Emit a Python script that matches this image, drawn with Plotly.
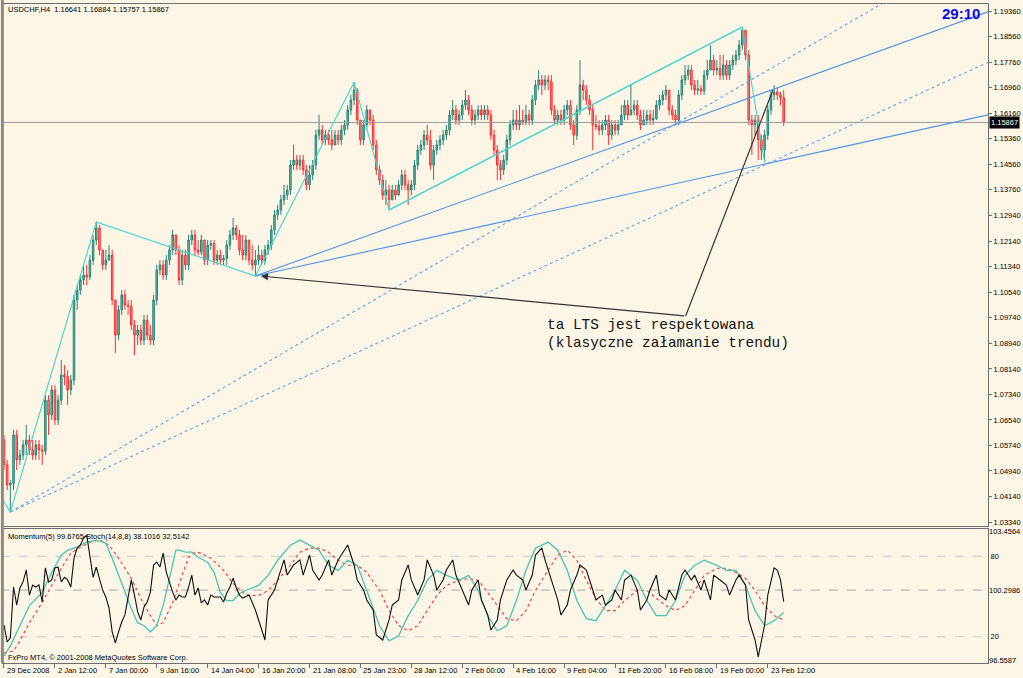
import plotly.graph_objects as go

# ---------------- data ----------------
opens = [
1.0591, 1.0513, 1.0450, 1.0455, 1.0607, 1.0529, 1.0544, 1.0576, 1.0591, 1.0560,
1.0544, 1.0576, 1.0560, 1.0556, 1.0716, 1.0670, 1.0748, 1.0654, 1.0716, 1.0795,
1.0790, 1.0748, 1.0779, 1.1030, 1.1061, 1.1093, 1.1108, 1.1102, 1.1155, 1.1218,
1.1256, 1.1187, 1.1140, 1.1155, 1.1171, 1.1030, 1.0920, 1.0999, 1.1046, 1.1014,
1.1010, 1.0952, 1.0920, 1.0936, 1.0904, 1.0967, 1.0920, 1.0904, 1.1030, 1.1124,
1.1140, 1.1108, 1.1155, 1.1187, 1.1234, 1.1187, 1.1093, 1.1171, 1.1140, 1.1218,
1.1234, 1.1187, 1.1180, 1.1218, 1.1155, 1.1202, 1.1207, 1.1155, 1.1171, 1.1155,
1.1160, 1.1202, 1.1234, 1.1256, 1.1234, 1.1187, 1.1171, 1.1218, 1.1155, 1.1140,
1.1155, 1.1171, 1.1155, 1.1187, 1.1202, 1.1250, 1.1297, 1.1312, 1.1344, 1.1359,
1.1375, 1.1453, 1.1469, 1.1453, 1.1469, 1.1438, 1.1391, 1.1422, 1.1453, 1.1547,
1.1563, 1.1532, 1.1547, 1.1532, 1.1516, 1.1547, 1.1532, 1.1563, 1.1579, 1.1626,
1.1657, 1.1688, 1.1594, 1.1532, 1.1579, 1.1626, 1.1594, 1.1516, 1.1438, 1.1406,
1.1359, 1.1375, 1.1344, 1.1375, 1.1359, 1.1391, 1.1422, 1.1391, 1.1375, 1.1391,
1.1453, 1.1500, 1.1516, 1.1547, 1.1532, 1.1453, 1.1500, 1.1516, 1.1532, 1.1547,
1.1563, 1.1610, 1.1626, 1.1594, 1.1610, 1.1641, 1.1657, 1.1626, 1.1594, 1.1610,
1.1626, 1.1610, 1.1626, 1.1610, 1.1547, 1.1500, 1.1453, 1.1438, 1.1469, 1.1532,
1.1579, 1.1594, 1.1579, 1.1594, 1.1590, 1.1610, 1.1594, 1.1657, 1.1704, 1.1720,
1.1704, 1.1720, 1.1714, 1.1626, 1.1594, 1.1610, 1.1594, 1.1626, 1.1641, 1.1579,
1.1547, 1.1626, 1.1704, 1.1688, 1.1657, 1.1626, 1.1579, 1.1574, 1.1563, 1.1579,
1.1594, 1.1547, 1.1579, 1.1563, 1.1579, 1.1610, 1.1641, 1.1610, 1.1626, 1.1641,
1.1610, 1.1579, 1.1594, 1.1610, 1.1594, 1.1599, 1.1641, 1.1657, 1.1673, 1.1688,
1.1626, 1.1610, 1.1594, 1.1673, 1.1720, 1.1735, 1.1751, 1.1704, 1.1688, 1.1692,
1.1685, 1.1735, 1.1751, 1.1782, 1.1751, 1.1756, 1.1735, 1.1767, 1.1735, 1.1767,
1.1782, 1.1798, 1.1829, 1.1876, 1.1798, 1.1594, 1.1579, 1.1594, 1.1532, 1.1500,
1.1547, 1.1626, 1.1673, 1.1682, 1.1673, 1.16641]

highs = [
1.0607, 1.0529, 1.0466, 1.0623, 1.0623, 1.0560, 1.0591, 1.0638, 1.0607, 1.0591,
1.0591, 1.0591, 1.0576, 1.0732, 1.0732, 1.0763, 1.0763, 1.0732, 1.0842, 1.0826,
1.0810, 1.0795, 1.1046, 1.1077, 1.1108, 1.1140, 1.1140, 1.1171, 1.1234, 1.1275,
1.1265, 1.1187, 1.1187, 1.1202, 1.1187, 1.1030, 1.1014, 1.1061, 1.1061, 1.1030,
1.1030, 1.0967, 1.0952, 1.0952, 1.0983, 1.0983, 1.0952, 1.1046, 1.1140, 1.1155,
1.1155, 1.1171, 1.1202, 1.1250, 1.1234, 1.1202, 1.1187, 1.1187, 1.1234, 1.1250,
1.1250, 1.1218, 1.1234, 1.1218, 1.1218, 1.1218, 1.1218, 1.1187, 1.1187, 1.1171,
1.1218, 1.1250, 1.1287, 1.1265, 1.1250, 1.1234, 1.1234, 1.1218, 1.1202, 1.1187,
1.1202, 1.1187, 1.1202, 1.1218, 1.1265, 1.1312, 1.1328, 1.1359, 1.1391, 1.1391,
1.1469, 1.1516, 1.1485, 1.1485, 1.1485, 1.1453, 1.1453, 1.1469, 1.1563, 1.1610,
1.1579, 1.1563, 1.1563, 1.1563, 1.1563, 1.1563, 1.1579, 1.1594, 1.1641, 1.1673,
1.1713, 1.1695, 1.1594, 1.1594, 1.1641, 1.1626, 1.1610, 1.1532, 1.1453, 1.1422,
1.1406, 1.1391, 1.1391, 1.1391, 1.1406, 1.1438, 1.1438, 1.1406, 1.1406, 1.1469,
1.1516, 1.1532, 1.1563, 1.1579, 1.1563, 1.1516, 1.1532, 1.1547, 1.1563, 1.1579,
1.1626, 1.1657, 1.1641, 1.1626, 1.1657, 1.1688, 1.1673, 1.1641, 1.1626, 1.1641,
1.1641, 1.1641, 1.1641, 1.1626, 1.1563, 1.1516, 1.1469, 1.1485, 1.1547, 1.1594,
1.1626, 1.1626, 1.1641, 1.1626, 1.1641, 1.1626, 1.1673, 1.1720, 1.1751, 1.1735,
1.1735, 1.1735, 1.1735, 1.1641, 1.1626, 1.1626, 1.1641, 1.1657, 1.1657, 1.1594,
1.1641, 1.1782, 1.1720, 1.1704, 1.1673, 1.1641, 1.1610, 1.1594, 1.1594, 1.1610,
1.1610, 1.1594, 1.1594, 1.1594, 1.1641, 1.1657, 1.1657, 1.1704, 1.1657, 1.1657,
1.1626, 1.1626, 1.1626, 1.1626, 1.1626, 1.1657, 1.1673, 1.1688, 1.1704, 1.1688,
1.1641, 1.1626, 1.1688, 1.1735, 1.1767, 1.1767, 1.1767, 1.1720, 1.1720, 1.1704,
1.1751, 1.1782, 1.1829, 1.1798, 1.1782, 1.1798, 1.1798, 1.1782, 1.1782, 1.1798,
1.1814, 1.1845, 1.1886, 1.1876, 1.1814, 1.1610, 1.1610, 1.1610, 1.1547, 1.1563,
1.1641, 1.1688, 1.1704, 1.1695, 1.1682, 1.16884]

lows = [
1.0497, 1.0434, 1.0365, 1.0434, 1.0497, 1.0513, 1.0529, 1.0544, 1.0544, 1.0529,
1.0529, 1.0529, 1.0513, 1.0544, 1.0607, 1.0654, 1.0638, 1.0638, 1.0701, 1.0763,
1.0701, 1.0732, 1.0763, 1.0999, 1.1046, 1.1077, 1.1077, 1.1093, 1.1140, 1.1202,
1.1171, 1.1124, 1.1124, 1.1155, 1.1014, 1.0864, 1.0904, 1.0983, 1.0999, 1.0983,
1.0936, 1.0857, 1.0889, 1.0889, 1.0889, 1.0904, 1.0889, 1.0889, 1.1014, 1.1108,
1.1093, 1.1093, 1.1140, 1.1171, 1.1171, 1.1077, 1.1077, 1.1124, 1.1124, 1.1202,
1.1171, 1.1171, 1.1171, 1.1140, 1.1140, 1.1187, 1.1140, 1.1140, 1.1140, 1.1140,
1.1140, 1.1187, 1.1218, 1.1218, 1.1171, 1.1155, 1.1155, 1.1140, 1.1124, 1.1105,
1.1140, 1.1140, 1.1140, 1.1171, 1.1187, 1.1234, 1.1281, 1.1297, 1.1328, 1.1344,
1.1359, 1.1438, 1.1438, 1.1438, 1.1422, 1.1375, 1.1375, 1.1406, 1.1438, 1.1532,
1.1516, 1.1516, 1.1516, 1.1500, 1.1516, 1.1516, 1.1516, 1.1547, 1.1563, 1.1610,
1.1641, 1.1579, 1.1516, 1.1516, 1.1563, 1.1579, 1.1500, 1.1422, 1.1391, 1.1344,
1.1328, 1.1312, 1.1344, 1.1344, 1.1359, 1.1375, 1.1375, 1.1328, 1.1359, 1.1375,
1.1438, 1.1485, 1.1500, 1.1516, 1.1438, 1.1406, 1.1485, 1.1500, 1.1516, 1.1532,
1.1547, 1.1594, 1.1579, 1.1579, 1.1594, 1.1626, 1.1610, 1.1579, 1.1579, 1.1594,
1.1594, 1.1594, 1.1594, 1.1532, 1.1485, 1.1406, 1.1406, 1.1422, 1.1453, 1.1516,
1.1563, 1.1563, 1.1563, 1.1579, 1.1579, 1.1579, 1.1579, 1.1641, 1.1688, 1.1673,
1.1688, 1.1688, 1.1610, 1.1579, 1.1579, 1.1579, 1.1579, 1.1610, 1.1563, 1.1516,
1.1532, 1.1610, 1.1657, 1.1641, 1.1610, 1.1500, 1.1563, 1.1547, 1.1547, 1.1563,
1.1516, 1.1532, 1.1547, 1.1547, 1.1579, 1.1594, 1.1594, 1.1610, 1.1610, 1.1594,
1.1563, 1.1579, 1.1579, 1.1579, 1.1579, 1.1594, 1.1626, 1.1641, 1.1657, 1.1610,
1.1594, 1.1579, 1.1579, 1.1657, 1.1704, 1.1720, 1.1688, 1.1673, 1.1673, 1.1673,
1.1673, 1.1720, 1.1751, 1.1735, 1.1735, 1.1720, 1.1720, 1.1720, 1.1720, 1.1751,
1.1767, 1.1782, 1.1814, 1.1782, 1.1579, 1.1485, 1.1547, 1.1469, 1.1469, 1.1463,
1.1532, 1.1610, 1.1657, 1.1657, 1.1641, 1.15757]

closes = [
1.0513, 1.0450, 1.0455, 1.0607, 1.0529, 1.0544, 1.0576, 1.0591, 1.0560, 1.0544,
1.0576, 1.0560, 1.0556, 1.0716, 1.0670, 1.0748, 1.0654, 1.0716, 1.0795, 1.0790,
1.0748, 1.0779, 1.1030, 1.1061, 1.1093, 1.1108, 1.1102, 1.1155, 1.1218, 1.1256,
1.1187, 1.1140, 1.1155, 1.1171, 1.1030, 1.0920, 1.0999, 1.1046, 1.1014, 1.1010,
1.0952, 1.0920, 1.0936, 1.0904, 1.0967, 1.0920, 1.0904, 1.1030, 1.1124, 1.1140,
1.1108, 1.1155, 1.1187, 1.1234, 1.1187, 1.1093, 1.1171, 1.1140, 1.1218, 1.1234,
1.1187, 1.1180, 1.1218, 1.1155, 1.1202, 1.1207, 1.1155, 1.1171, 1.1155, 1.1160,
1.1202, 1.1234, 1.1256, 1.1234, 1.1187, 1.1171, 1.1218, 1.1155, 1.1140, 1.1155,
1.1171, 1.1155, 1.1187, 1.1202, 1.1250, 1.1297, 1.1312, 1.1344, 1.1359, 1.1375,
1.1453, 1.1469, 1.1453, 1.1469, 1.1438, 1.1391, 1.1422, 1.1453, 1.1547, 1.1563,
1.1532, 1.1547, 1.1532, 1.1516, 1.1547, 1.1532, 1.1563, 1.1579, 1.1626, 1.1657,
1.1688, 1.1594, 1.1532, 1.1579, 1.1626, 1.1594, 1.1516, 1.1438, 1.1406, 1.1359,
1.1375, 1.1344, 1.1375, 1.1359, 1.1391, 1.1422, 1.1391, 1.1375, 1.1391, 1.1453,
1.1500, 1.1516, 1.1547, 1.1532, 1.1453, 1.1500, 1.1516, 1.1532, 1.1547, 1.1563,
1.1610, 1.1626, 1.1594, 1.1610, 1.1641, 1.1657, 1.1626, 1.1594, 1.1610, 1.1626,
1.1610, 1.1626, 1.1610, 1.1547, 1.1500, 1.1453, 1.1438, 1.1469, 1.1532, 1.1579,
1.1594, 1.1579, 1.1594, 1.1590, 1.1610, 1.1594, 1.1657, 1.1704, 1.1720, 1.1704,
1.1720, 1.1714, 1.1626, 1.1594, 1.1610, 1.1594, 1.1626, 1.1641, 1.1579, 1.1547,
1.1626, 1.1704, 1.1688, 1.1657, 1.1626, 1.1579, 1.1574, 1.1563, 1.1579, 1.1594,
1.1547, 1.1579, 1.1563, 1.1579, 1.1610, 1.1641, 1.1610, 1.1626, 1.1641, 1.1610,
1.1579, 1.1594, 1.1610, 1.1594, 1.1599, 1.1641, 1.1657, 1.1673, 1.1688, 1.1626,
1.1610, 1.1594, 1.1673, 1.1720, 1.1735, 1.1751, 1.1704, 1.1688, 1.1692, 1.1685,
1.1735, 1.1751, 1.1782, 1.1751, 1.1756, 1.1735, 1.1767, 1.1735, 1.1767, 1.1782,
1.1798, 1.1829, 1.1876, 1.1798, 1.1594, 1.1579, 1.1594, 1.1532, 1.1500, 1.1547,
1.1626, 1.1673, 1.1682, 1.1673, 1.16641, 1.15867]

bars = list(range(len(closes)))

date_ticks = [0, 16, 32, 48, 64, 80, 96, 112, 128, 144, 160, 176, 192, 208, 224, 240]
date_labels = ["29 Dec 2008", "2 Jan 12:00", "7 Jan 00:00", "9 Jan 16:00", "14 Jan 04:00",
               "16 Jan 20:00", "21 Jan 08:00", "25 Jan 23:00", "28 Jan 12:00", "2 Feb 00:00",
               "4 Feb 16:00", "9 Feb 04:00", "11 Feb 20:00", "16 Feb 08:00", "19 Feb 00:00",
               "23 Feb 12:00"]

price_ticks = [1.1936, 1.1856, 1.1776, 1.1696, 1.1616, 1.1536, 1.1456, 1.1376, 1.1294, 1.1214,
               1.1134, 1.1054, 1.0974, 1.0894, 1.0814, 1.0734, 1.0654, 1.0574, 1.0494, 1.0414, 1.0334]
price_labels = ["%.5f" % v for v in price_ticks]
last_price = 1.15867

# zigzag + trend lines (anchor points: bar index, price)
zigzag_bar = [-0.31, 2, 29, 79, 110, 121, 232, 239]
zigzag_px = [1.0403, 1.0365, 1.1275, 1.1105, 1.1713, 1.1312, 1.1886, 1.1463]
channel_bar = [121, 232]
channel_px = [1.1312, 1.1886]
lineA_bar = [79, 315]
lineA_px = [1.1105, 1.1954]
lineC_bar = [79, 315]
lineC_px = [1.1105, 1.1623]
dot1_bar = [2, 315]
dot1_px = [1.0365, 1.2187]
dot2_bar = [2, 315]
dot2_px = [1.0365, 1.1802]
note_bar = [214.2, 80.7, 241.6]
note_px = [1.0980, 1.1105, 1.1688]

# indicator panel
mom_bar = list(range(0, 76)) + [
    77, 79, 80, 82, 83, 85, 86, 88, 89, 91, 93, 94, 96, 97, 99, 100, 102, 103, 105, 107,
    108, 110, 111, 113, 114, 116, 117, 119, 121, 122, 124, 125, 127, 128, 130, 132, 133, 135, 136, 138,
    139, 141, 142, 144, 146, 147, 149, 150, 152, 153, 155, 156, 158, 160, 161, 163, 164, 166, 167, 169,
    170, 172, 174, 175, 177, 178, 180, 181, 183, 185, 186, 188, 189, 191, 192, 194, 195, 197, 199, 200,
    202, 203, 205, 206, 208, 209, 211, 213, 214, 216, 217, 219, 220, 222, 223, 225, 227, 228, 230, 231,
    233, 234, 236, 237, 238, 239, 240, 241, 242, 243, 244, 245]
mom_val = [
    98.43, 97.52, 97.74, 100.46, 99.50, 100.41, 100.75, 101.37, 100.03, 100.57,
    100.46, 100.57, 99.66, 101.48, 100.73, 100.84, 101.48, 101.53, 100.73, 100.98,
    100.84, 100.46, 102.01, 102.55, 102.71, 103.08, 103.24, 102.01, 100.98, 101.53,
    100.94, 100.30, 99.93, 99.34, 98.06, 97.47, 98.06, 98.59, 98.97, 99.87,
    100.84, 100.03, 99.13, 98.70, 99.39, 99.66, 100.19, 101.64, 101.80, 101.53,
    102.28, 101.26, 100.68, 100.19, 99.77, 100.03, 99.93, 99.93, 100.46, 101.10,
    100.03, 100.41, 99.61, 99.77, 99.50, 100.03, 99.93, 99.93, 99.93, 99.66,
    100.14, 100.46, 100.94, 100.41, 100.03, 99.87,
    100.03, 99.23, 98.70, 97.63, 99.77, 100.30, 100.84, 101.91, 101.10, 101.64,
    101.91, 101.10, 102.17, 101.37, 100.84, 101.10, 101.91, 101.10, 101.91, 102.44,
    102.71, 101.64, 100.84, 100.30, 99.77, 99.23, 97.90, 97.63, 98.70, 99.50,
    99.77, 100.84, 101.64, 100.84, 100.03, 100.84, 101.91, 101.10, 100.30, 100.84,
    101.37, 101.91, 101.10, 100.30, 99.50, 100.30, 100.84, 99.77, 98.97, 98.16,
    98.70, 99.77, 100.84, 101.37, 101.10, 100.84, 100.30, 101.10, 102.17, 102.55,
    101.91, 100.84, 99.77, 98.97, 99.50, 100.30, 101.10, 101.64, 101.37, 100.30,
    99.77, 100.03, 99.50, 99.77, 100.30, 99.77, 100.84, 101.10, 100.30, 99.23,
    99.77, 100.30, 101.10, 100.03, 99.77, 100.30, 99.77, 101.10, 101.37, 100.84,
    101.10, 100.30, 100.84, 99.77, 101.10, 100.84, 100.57, 100.03, 100.84, 101.10,
    100.57, 98.70, 97.63, 96.72, 97.63, 98.43, 100.03, 100.84, 101.48, 101.37,
    100.84, 99.6765]

stoch_bar = [0, 2, 5, 8, 12, 15, 18, 20, 23, 26, 29, 32, 34, 36, 38, 40, 42, 44, 45, 46,
             48, 50, 52, 54, 55, 57, 59, 61, 64, 66, 68, 70, 72, 74, 76, 80, 83, 86, 90, 93,
             96, 99, 102, 105, 108, 111, 114, 118, 121, 124, 127, 130, 133, 136, 139, 143, 146, 149, 152, 155,
             158, 161, 164, 167, 171, 174, 177, 180, 183, 186, 189, 192, 195, 199, 202, 205, 208, 211, 214, 217,
             220, 224, 227, 230, 233, 236, 239, 242, 245]
stoch_val = [5.75, 13.25, 28.25, 43.25, 53.0, 68.0, 80.75, 84.5, 86.75, 90.5,
             92.0, 89.75, 78.5, 65.75, 53.0, 41.0, 30.5, 28.25, 26.0, 23.75,
             28.25, 43.25, 63.5, 84.5, 84.5, 83.0, 83.0, 79.25, 75.5, 68.0,
             53.0, 47.0, 47.0, 52.25, 54.5, 58.25, 65.75, 77.0, 88.25, 92.0,
             88.25, 84.5, 73.25, 69.5, 77.0, 73.25, 54.5, 28.25, 17.0, 20.75,
             35.75, 47.0, 62.0, 69.5, 65.75, 62.0, 65.75, 54.5, 35.75, 24.5,
             28.25, 47.0, 69.5, 86.0, 90.5, 84.5, 69.5, 47.0, 33.5, 32.0,
             43.25, 54.5, 69.5, 62.0, 47.0, 35.75, 35.75, 47.0, 65.75, 73.25,
             77.0, 73.25, 69.5, 69.5, 58.25, 39.5, 28.25, 32.0, 38.1016]

signal_bar = [0, 3, 5, 8, 12, 15, 18, 21, 24, 27, 30, 33, 36, 40, 43, 46, 48, 50, 53, 56,
              58, 60, 62, 65, 69, 72, 75, 77, 80, 83, 86, 90, 93, 96, 99, 102, 105, 108, 111, 114,
              118, 121, 124, 127, 130, 133, 136, 139, 143, 146, 149, 152, 155, 158, 161, 164, 167, 171, 174, 177,
              180, 183, 186, 189, 192, 195, 199, 202, 205, 208, 211, 214, 217, 220, 224, 227, 230, 233, 236, 239,
              242, 245]
signal_val = [8.0, 9.5, 17.0, 30.5, 45.5, 58.25, 71.0, 82.25, 86.75, 90.5,
              92.0, 88.25, 78.5, 63.5, 48.5, 35.75, 28.25, 30.5, 45.5, 65.75,
              79.25, 83.0, 82.25, 78.5, 69.5, 59.75, 53.0, 50.75, 50.75, 54.5,
              62.0, 73.25, 83.0, 86.0, 86.0, 83.0, 77.0, 73.25, 73.25, 68.0,
              54.5, 39.5, 28.25, 24.5, 28.25, 39.5, 50.75, 58.25, 62.0, 63.5,
              62.0, 53.0, 43.25, 33.5, 32.0, 39.5, 54.5, 69.5, 80.75, 84.5,
              77.0, 62.0, 48.5, 39.5, 39.5, 47.0, 54.5, 54.5, 48.5, 43.25,
              39.5, 43.25, 54.5, 65.75, 71.0, 71.0, 68.0, 63.5, 54.5, 43.25,
              35.75, 32.5142]

stoch_levels = [80, 20]
mom_level = 100.2986
mom_ticks = [103.4564, 100.2986, 96.5587]

# ---------------- styling ----------------
BG = "#fdf5e6"
AXC = "#6e6e6e"
FONT = "Liberation Sans"
SMALL = 7.5
XR = [-0.31, 309.2]
XEXT = [-1, 320]

fig = go.Figure()

fig.add_trace(go.Candlestick(
    x=bars, open=opens, high=highs, low=lows, close=closes,
    increasing=dict(line=dict(color="#26867a", width=1), fillcolor="#66b8aa"),
    decreasing=dict(line=dict(color="#ff2e2e", width=1), fillcolor="#ff8c8c"),
    xaxis="x", yaxis="y", hoverinfo="skip"))

def line(xs, ys, color, width=1.0, dash="solid", xa="x", ya="y"):
    fig.add_trace(go.Scatter(x=xs, y=ys, mode="lines", xaxis=xa, yaxis=ya,
                             line=dict(color=color, width=width, dash=dash),
                             hoverinfo="skip"))

line(XEXT, [last_price, last_price], "#9a9a9a", 1)
line(dot1_bar, dot1_px, "#5aa6f2", 1.1, "dot")
line(dot2_bar, dot2_px, "#5aa6f2", 1.1, "dot")
line(lineA_bar, lineA_px, "#4a93ea", 1.1)
line(lineC_bar, lineC_px, "#4a93ea", 1.1)
line(zigzag_bar, zigzag_px, "#3fd6cf", 1.1)
line(channel_bar, channel_px, "#3fd6cf", 1.1)
line([note_bar[0], note_bar[2]], [note_px[0], note_px[2]], "#333333", 1.2)

# indicator panel
line(XEXT, [stoch_levels[0]] * 2, "#c8c8c8", 1, "dash", "x2", "y2")
line(XEXT, [stoch_levels[1]] * 2, "#c8c8c8", 1, "dash", "x2", "y2")
line(XEXT, [mom_level] * 2, "#a8a8a8", 1, "dash", "x2", "y3")
line(signal_bar, signal_val, "#ff3030", 1.1, "dot", "x2", "y2")
line(stoch_bar, stoch_val, "#45c6b6", 1.3, "solid", "x2", "y2")
line(mom_bar, mom_val, "#111111", 1.1, "solid", "x2", "y3")

ann = []
def txt(x, y, s, size=SMALL, color="#000000", family=FONT, xanchor="left", yanchor="middle", **kw):
    d = dict(x=x, y=y, text=s, showarrow=False, xref=kw.pop("xref", "paper"), yref=kw.pop("yref", "paper"),
             xanchor=xanchor, yanchor=yanchor, font=dict(family=family, size=size, color=color))
    d.update(kw)
    ann.append(d)

txt(0.003, 0.9924, "USDCHF,H4  1.16641 1.16884 1.15757 1.15867")
txt(0.9935, 0.9863, "<b>29:10</b>", size=15, color="#0a0af0", xanchor="right")
txt(1.0, last_price, "1.15867", color="#ffffff", yref="y", xshift=1, bgcolor="#000000", borderpad=1)
txt(0.003, 0.1912, "Momentum(5) 99.6765 Stoch(14,8,8) 38.1016 32.5142")
txt(0.003, 0.0091, "FxPro MT4, © 2001-2008 MetaQuotes Software Corp.")
txt(0.5498, 0.5129, "ta LTS jest respektowana", size=14.4, color="#111111", family="Liberation Mono")
txt(0.5498, 0.4856, "(klasyczne załamanie trendu)", size=14.4, color="#111111", family="Liberation Mono")
for tv, tl in zip(date_ticks, date_labels):
    txt(tv, 0, tl, xref="x2", yanchor="top", yshift=-1, xshift=1)

ann.append(dict(x=note_bar[1], y=note_px[1], ax=note_bar[0], ay=note_px[0], xref="x", yref="y",
                axref="x", ayref="y", showarrow=True, arrowhead=2, arrowsize=1.2, arrowwidth=1.2,
                arrowcolor="#333333", text=""))

axis_common = dict(showgrid=False, zeroline=False, showline=True, mirror=True,
                   linecolor=AXC, linewidth=1)

fig.update_layout(
    width=1023, height=678,
    margin=dict(l=2, r=28, t=4, b=15),
    paper_bgcolor=BG, plot_bgcolor=BG,
    showlegend=False, hovermode=False, dragmode=False,
    font=dict(family=FONT, size=SMALL, color="#000000"),
    xaxis=dict(domain=[0, 1], range=XR, anchor="y", showticklabels=False, ticks="",
               rangeslider=dict(visible=False), **axis_common),
    yaxis=dict(domain=[0.2079, 1], range=[1.03215, 1.19580], side="right", anchor="x",
               tickvals=price_ticks, ticktext=price_labels, ticks="outside", ticklen=3,
               tickcolor=AXC, tickfont=dict(size=SMALL), **axis_common),
    xaxis2=dict(domain=[0, 1], range=XR, anchor="y2", showticklabels=False,
                tickvals=date_ticks, ticks="outside", ticklen=4, tickcolor=AXC, **axis_common),
    yaxis2=dict(domain=[0, 0.2033], range=[0.5, 100.25], side="right", anchor="x2",
                tickvals=stoch_levels, ticktext=["80", "20"], ticks="", tickfont=dict(size=SMALL),
                **axis_common),
    yaxis3=dict(range=[96.398, 103.563], overlaying="y2", side="right", anchor="x2",
                tickvals=mom_ticks, ticktext=["103.4564", "100.2986", "96.5587"], ticks="",
                tickfont=dict(size=SMALL), showgrid=False, zeroline=False, showline=False),
    annotations=ann,
    shapes=[dict(type="rect", xref="paper", yref="paper", x0=-0.0021, x1=0.0009, y0=0, y1=1.0061,
                 fillcolor="#8c8a86", line=dict(width=0), layer="above")],
)

fig.write_html("out.html", config={"displayModeBar": False, "staticPlot": True},
               post_script="document.body.style.margin='0';document.body.style.overflow='hidden';")
